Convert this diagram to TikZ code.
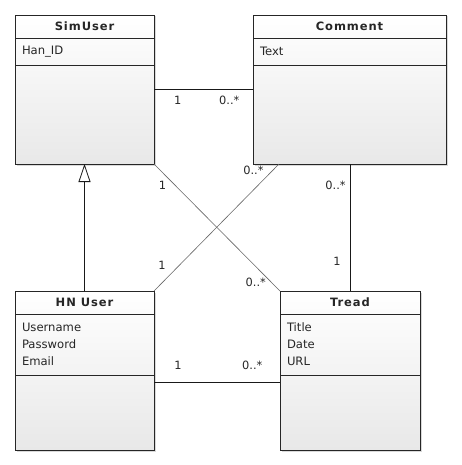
\documentclass[tikz,border=0pt]{standalone}
\usepackage{fontspec}
\setmainfont{DejaVu Sans}
\newfontfamily\headfont{DejaVu Sans}[LetterSpace=8]
\usetikzlibrary{shadows,arrows.meta}

\tikzset{
	classbox/.style={draw=black!85, line width=0.8pt, top color=white, bottom color=black!9, inner sep=0pt, outer sep=0pt,
		drop shadow={shadow xshift=1.5pt, shadow yshift=-1.5pt, opacity=0.3}},
	classname/.style={anchor=north, minimum height=23pt, inner sep=0pt, outer sep=0pt, text=black!85,
		font=\headfont\bfseries\fontsize{11.5}{14}\selectfont},
	attrs/.style={anchor=north, inner xsep=7pt, inner ysep=0pt, outer sep=0pt, align=left, text=black!85,
		font=\fontsize{11.6}{17}\selectfont},
	sep/.style={draw=black!85, line width=0.8pt},
	mult/.style={inner sep=1pt, text=black!85, font=\fontsize{11.4}{13}\selectfont},
	assoc/.style={draw=black!90, line width=0.8pt},
	cross/.style={draw=black!60, line width=0.6pt},
}

\begin{document}
\begin{tikzpicture}[x=1pt, y=-1pt]
	\useasboundingbox (0,0) rectangle (462,465);

	% classes
	\node[classbox, minimum width=139pt, minimum height=149pt] (SU) at (84.5,89.5) {};
	\node[classname, minimum width=139pt] (SUn) at (SU.north) {SimUser};
	\node[attrs, text width=125pt, minimum height=27pt] (SUa) at (SUn.south) {Han\_ID};

	\node[classbox, minimum width=193pt, minimum height=149pt] (CM) at (349.5,89.5) {};
	\node[classname, minimum width=193pt] (CMn) at (CM.north) {Comment};
	\node[attrs, text width=179pt, minimum height=27pt] (CMa) at (CMn.south) {Text};

	\node[classbox, minimum width=139pt, minimum height=159pt] (HN) at (84.5,370.5) {};
	\node[classname, minimum width=139pt] (HNn) at (HN.north) {HN User};
	\node[attrs, text width=125pt, minimum height=61pt] (HNa) at (HNn.south) {Username\\Password\\Email};

	\node[classbox, minimum width=140pt, minimum height=159pt] (TR) at (350,370.5) {};
	\node[classname, minimum width=140pt] (TRn) at (TR.north) {Tread};
	\node[attrs, text width=126pt, minimum height=61pt] (TRa) at (TRn.south) {Title\\Date\\URL};

	\draw[sep] (SUn.south west) -- (SUn.south east);
	\draw[sep] (SUa.south west) -- (SUa.south east);
	\draw[sep] (CMn.south west) -- (CMn.south east);
	\draw[sep] (CMa.south west) -- (CMa.south east);
	\draw[sep] (HNn.south west) -- (HNn.south east);
	\draw[sep] (HNa.south west) -- (HNa.south east);
	\draw[sep] (TRn.south west) -- (TRn.south east);
	\draw[sep] (TRa.south west) -- (TRa.south east);

	% associations
	\draw[assoc] (SU.east) to node[mult, pos=0.24, below=5pt]{1} node[mult, pos=0.76, below=5pt]{0..*} (CM.west);
	\draw[assoc] ([yshift=-11.5pt]HN.east) to node[mult, pos=0.19, above=11pt]{1} node[mult, pos=0.78, above=11pt]{0..*} ([yshift=-11.5pt]TR.west);
	\draw[assoc] (CM.south -| TR.north) to node[mult, pos=0.17, left=3pt]{0..*} node[mult, pos=0.77, left=8pt]{1} (TR.north);
	\draw[cross] (SU.south east) to node[mult, pos=0.17, left=8pt]{1} node[mult, pos=0.93, left=4pt]{0..*} (TR.north west);
	\draw[cross] ([xshift=26pt]CM.south west) to node[mult, pos=0.05, left=8pt]{0..*} node[mult, pos=0.8, left=12pt]{1} (HN.north east);

	% generalization
	\draw[assoc, -{Triangle[open, length=18pt, width=12pt]}] (HN) to (SU);
\end{tikzpicture}
\end{document}
